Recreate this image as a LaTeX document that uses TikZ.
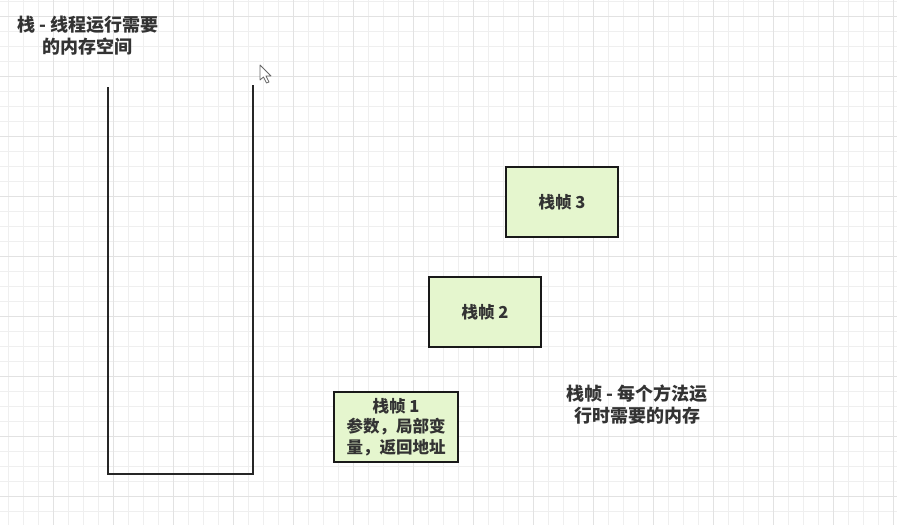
\documentclass[tikz,border=0pt]{standalone}
\usepackage{fontspec}
\setmainfont{Noto Sans CJK SC}
\usetikzlibrary{shadows}
\definecolor{gridminor}{HTML}{EFEFEF}
\definecolor{gridmajor}{HTML}{E2E2E2}
\definecolor{framefill}{HTML}{E5F6CE}
\definecolor{txt}{HTML}{333333}
\tikzset{
  frame/.style={draw=black!90, line width=1.3pt, fill=framefill, minimum width=112pt, minimum height=70pt,
    align=center, text=txt, font=\fontsize{16.5}{20.5}\selectfont\bfseries,
    drop shadow={shadow xshift=1.2pt, shadow yshift=-1.2pt, opacity=0.35, fill=black}},
  label/.style={align=center, text=txt, font=\fontsize{18}{22}\selectfont\bfseries},
  wall/.style={draw=black!85, line width=2pt}
}
\begin{document}
\begin{tikzpicture}[x=1pt,y=-1pt]
\useasboundingbox (0,0) rectangle (897,525);
\fill[white] (0,0) rectangle (897,525);
% grid
\foreach \i in {0,...,59} {\draw[gridminor, line width=0.9pt] (8+15*\i,0) -- (8+15*\i,525);}
\foreach \j in {0,...,34} {\draw[gridminor, line width=0.9pt] (0,1+15*\j) -- (897,1+15*\j);}
\foreach \i in {0,...,14} {\draw[gridmajor, line width=1pt] (53+60*\i,0) -- (53+60*\i,525);}
\foreach \j in {0,...,8} {\draw[gridmajor, line width=1pt] (0,16+60*\j) -- (897,16+60*\j);}
% title
\node[label] (title) at (88,36) {栈 - 线程运行需要\\的内存空间};
% stack container
\coordinate (tl) at (108,87);
\coordinate (bl) at (108,474);
\coordinate (br) at (253,474);
\coordinate (tr) at (253,85);
\draw[wall] (tl) -- (bl) -- (br) -- (tr);
% cursor
\draw[fill=white, draw=black!60, line width=0.8pt, line join=round]
  (260,65) -- (260,80) -- (263.5,77) -- (266.5,83) -- (269,82) -- (266,76) -- (271,76) -- cycle;
% frames
\node[frame] (f3) at (562,202) {栈帧 3};
\node[frame] (f2) at (485,312) {栈帧 2};
\node[frame, minimum width=124pt] (f1) at (396,427) {栈帧 1\\参数，局部变\\量，返回地址};
% frame label
\node[label] (flabel) at (637,405) {栈帧 - 每个方法运\\行时需要的内存};
\end{tikzpicture}
\end{document}
